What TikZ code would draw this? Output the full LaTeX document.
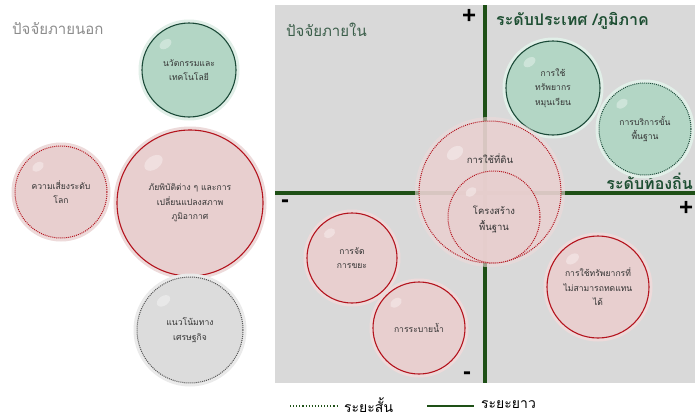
\documentclass[tikz,border=0pt]{standalone}
\usepackage{fontspec}
\newfontfamily\thai[Script=Thai]{Loma}
\setmainfont{Liberation Sans}
\definecolor{panel}{HTML}{D9D9D9}
\definecolor{axisg}{HTML}{1E5016}
\definecolor{pinkf}{HTML}{E8CFCF}
\definecolor{pinkh}{HTML}{EDDADA}
\definecolor{redl}{HTML}{B4141E}
\definecolor{greenf}{HTML}{B3D6C5}
\definecolor{greenl}{HTML}{1B4A38}
\definecolor{grayf}{HTML}{DCDCDC}
\definecolor{grayl}{HTML}{555555}
\definecolor{headg}{HTML}{1E4F33}
\tikzset{
  bub/.style={circle, inner sep=0pt, align=center, font=\thai\fontsize{8.6}{14.5}\selectfont, text=black!80},
  redsolid/.style={bub, fill=pinkf, draw=redl, line width=1.1pt},
  reddots/.style={bub, fill=pinkf, draw=redl, line width=1pt, densely dotted},
  greensolid/.style={bub, fill=greenf, draw=greenl, line width=1.1pt},
  greendots/.style={bub, fill=greenf, draw=greenl, line width=1pt, densely dotted},
  graydots/.style={bub, fill=grayf, draw=grayl, line width=1pt, densely dotted},
  axisline/.style={draw=axisg, line width=3.2pt},
  sign/.style={font=\fontsize{24}{24}\selectfont\bfseries, inner sep=0pt},
  head/.style={font=\thai\fontsize{15}{15}\selectfont, inner sep=0pt, anchor=west},
}
\newcommand{\mybubble}[7]{%
  \fill[#6] (#2,#3) circle[radius=#4pt+3.5pt];
  \node[#5, minimum size=2*#4 pt] (#1) at (#2,#3) {#7};
  \fill[white, opacity=0.35] (#2-0.5*#4,#3-0.55*#4) ellipse[x radius=0.14*#4 pt, y radius=0.09*#4 pt, rotate=35];
}
\begin{document}
\begin{tikzpicture}[x=1pt,y=-1pt]
\useasboundingbox (0,0) rectangle (695,418);
\fill[white] (0,0) rectangle (695,418);
% panel
\fill[panel] (275,5) rectangle (695,383);
% axes
\coordinate (vtop) at (485,5);
\coordinate (vbot) at (485,383);
\coordinate (hl) at (275,193);
\coordinate (hr) at (695,193);
\draw[axisline] (vtop) -- (vbot);
\draw[axisline] (hl) -- (hr);
% headings
\node[head, text=black!45] (ext) at (12,29) {ปัจจัยภายนอก};
\node[head, text=headg!70!gray] (int) at (286,30) {ปัจจัยภายใน};
\node[head, text=headg, font=\thai\fontsize{16}{16}\selectfont\bfseries] (nat) at (496,21) {ระดับประเทศ /ภูมิภาค};
\node[head, text=headg, font=\thai\fontsize{16}{16}\selectfont\bfseries, anchor=east] (loc) at (693,181) {ระดับท้องถิ่น};
% external bubbles
\mybubble{innov}{189}{70}{47}{greensolid}{white!60!greenf}{นวัตกรรมและ\\เทคโนโลยี}
\mybubble{global}{61}{192}{46}{reddots}{pinkh}{ความเสี่ยงระดับ\\โลก}
\mybubble{disaster}{190}{203}{73}{redsolid}{pinkh}{ภัยพิบัติต่าง ๆ และการ\\เปลี่ยนแปลงสภาพ\\ภูมิอากาศ}
\mybubble{econ}{190}{330}{53}{graydots}{white!40!grayf}{แนวโน้มทาง\\เศรษฐกิจ}
% internal bubbles
\mybubble{renew}{553}{88}{47}{greensolid}{white!60!greenf}{การใช้\\ทรัพยากร\\หมุนเวียน}
\mybubble{service}{645}{129}{46}{greendots}{white!60!greenf}{การบริการขั้น\\พื้นฐาน}
\fill[pinkh, opacity=0.6] (490,192) circle[radius=75pt];
\node[reddots, fill opacity=0.8, minimum size=142pt] (land) at (490,192) {};
\fill[white, opacity=0.35] (455,153) ellipse[x radius=9pt, y radius=6pt, rotate=35];
\node[bub] (landt) at (490,159) {\fontsize{9.5}{10}\selectfont การใช้ที่ดิน};
\node[reddots, fill opacity=0.85, minimum size=92pt] (infra) at (494,217) {};
\node[bub, font=\thai\fontsize{9.5}{16}\selectfont] (infrat) at (494,219) {โครงสร้าง\\พื้นฐาน};
\fill[white, opacity=0.35] (471,192) ellipse[x radius=6pt, y radius=4pt, rotate=35];
\mybubble{waste}{352}{258}{45}{redsolid}{pinkh}{การจัด\\การขยะ}
\mybubble{drain}{419}{328}{46}{redsolid}{pinkh}{การระบายน้ำ}
\mybubble{nonrenew}{598}{287}{51}{redsolid}{pinkh}{การใช้ทรัพยากรที่\\ไม่สามารถทดแทน\\ได้}
% signs
\node[sign] (ptop) at (469,16) {+};
\node[sign] (mleft) at (285,204) {-};
\node[sign] (pright) at (686,208) {+};
\node[sign] (mbot) at (467,376) {-};
% legend
\coordinate (l1a) at (290,406);
\coordinate (l1b) at (338,406);
\coordinate (l2a) at (427,406);
\coordinate (l2b) at (474,406);
\draw[axisg, line width=1.1pt, dotted] (l1a) -- (l1b);
\draw[axisg, line width=1.6pt] (l2a) -- (l2b);
\node[head, font=\thai\fontsize{14}{14}\selectfont] (short) at (344,405) {ระยะสั้น};
\node[head, font=\thai\fontsize{14}{14}\selectfont] (long) at (481,405) {ระยะยาว};
\end{tikzpicture}
\end{document}
